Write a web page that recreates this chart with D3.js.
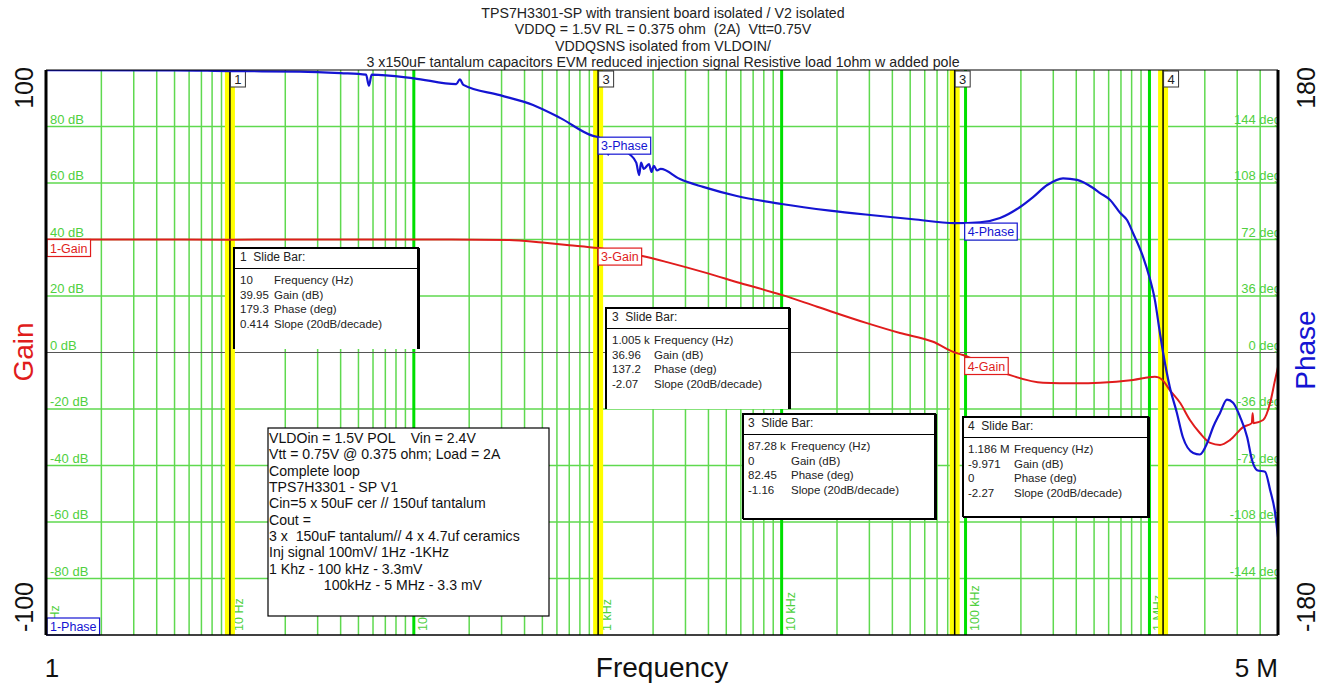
<!DOCTYPE html>
<html>
<head>
<meta charset="utf-8">
<script src="https://cdn.jsdelivr.net/npm/d3@7.9.0/dist/d3.min.js"></script>
<style>
  body { margin: 0; background: #fff; }
  svg { display: block; font-family: "Liberation Sans", Arial, sans-serif; }
</style>
</head>
<body>
<svg id="chart" width="1326" height="684"></svg>
<script>
// ---- data ----
const titleLines = [
  "TPS7H3301-SP with transient board isolated / V2 isolated",
  "VDDQ = 1.5V RL = 0.375 ohm  (2A)  Vtt=0.75V",
  "VDDQSNS isolated from VLDOIN/",
  "3 x150uF tantalum capacitors EVM reduced injection signal Resistive load 1ohm w added pole"
];

const gainFreq = [1, 3, 10, 30, 100, 160, 330, 500, 700, 1005, 1850, 2380, 3930, 5940, 10000,
  15600, 29100, 44000, 66600, 87280, 96900, 130000, 175000, 264000, 400000, 539000, 815000,
  1070000, 1120000, 1186000, 1290000, 1470000, 1660000, 1880000, 2140000, 2420000, 2740000,
  3230000, 3600000, 3640000, 3680000, 4150000, 4530000, 4820000, 5000000];
const gainDb = [40.0, 40.0, 39.95, 40.0, 40.0, 40.0, 39.8, 38.9, 38.0, 36.96, 33.8, 32.0, 28.1, 24.6, 20.4,
  16.2, 10.4, 6.9, 3.8, 0, -0.9, -4.5, -8.0, -10.7, -10.9, -10.7, -9.7,
  -8.6, -8.8, -9.97, -13.3, -17.9, -23.9, -28.5, -32.0, -32.7, -31.0,
  -26.4, -25.0, -21.5, -25.0, -23.9, -17.9, -9.7, -5.1];

const phaseFreq = [1, 5, 10, 24, 40, 55, 57, 59, 100, 170, 178, 186, 294, 445, 624, 943, 1005,
  1100, 1140, 1180, 1500, 1620, 1680, 1720, 1780, 1900, 1960, 2020, 2100, 2200, 2800, 3740, 5700, 10000,
  18300, 30300, 51800, 87280, 120000, 154000, 198000, 233000, 278000, 339000, 404000, 494000,
  539000, 611000, 692000, 755000, 815000, 923000, 1000000, 1070000, 1140000, 1186000, 1290000,
  1410000, 1520000, 1730000, 1880000, 2060000, 2220000, 2420000, 2640000, 2850000, 3110000,
  3400000, 3610000, 3850000, 4250000, 4530000, 4820000, 5000000];
const phaseDeg = [179.9, 179.8, 179.3, 179, 178, 177, 170, 177, 174.7, 171, 174, 170.5, 164, 157.7, 149.5, 138, 137.2,
  134, 126, 132, 126, 121, 113, 121, 117, 120, 115, 119, 116, 117, 110.5, 105.5, 99.7, 94.6,
  90.4, 87.6, 84.9, 82.45, 83.0, 85.7, 92.7, 99, 106.7, 111, 110, 104.8,
  101.6, 97.2, 89, 84.4, 76, 61, 48, 33.5, 12.4, 0, -22,
  -38.5, -54, -64, -65, -57.7, -47.5, -38.5, -30, -32, -41,
  -54, -68.5, -75, -76, -87.6, -102, -117.6];

const gainTicks = [80, 60, 40, 20, 0, -20, -40, -60, -80];
const phaseTicks = [144, 108, 72, 36, 0, -36, -72, -108, -144];
const decadeFreqs = [1, 10, 100, 1e3, 1e4, 1e5, 1e6];
const decadeLabels = ["1 Hz", "10 Hz", "100 Hz", "1 kHz", "10 kHz", "100 kHz", "1 MHz"];

const sliderFreqs = [10, 1005, 87280, 1186000];
const sliderNames = ["1", "3", "3", "4"];
const readoutHeads = ["1  Slide Bar:", "3  Slide Bar:", "3  Slide Bar:", "4  Slide Bar:"];
const readoutFields = ["Frequency (Hz)", "Gain (dB)", "Phase (deg)", "Slope (20dB/decade)"];
const readoutValues = [
  ["10", "39.95", "179.3", "0.414"],
  ["1.005 k", "36.96", "137.2", "-2.07"],
  ["87.28 k", "0", "82.45", "-1.16"],
  ["1.186 M", "-9.971", "0", "-2.27"]
];

const markerNames = ["1-Gain", "3-Gain", "4-Gain", "1-Phase", "3-Phase", "4-Phase"];
const markerFreqs = [1, 1005, 87280, 1, 1005, 87280];
const markerValues = [40, 36.96, 0, -180, 137.2, 82.45];

const noteLines = [
  "VLDOin = 1.5V POL    Vin = 2.4V",
  "Vtt = 0.75V @ 0.375 ohm; Load = 2A",
  "Complete loop",
  "TPS7H3301 - SP V1",
  "Cin=5 x 50uF cer // 150uf tantalum",
  "Cout =",
  "3 x  150uF tantalum// 4 x 4.7uf ceramics",
  "Inj signal 100mV/ 1Hz -1KHz",
  "1 Khz - 100 kHz - 3.3mV",
  "              100kHz - 5 MHz - 3.3 mV"
];

// ---- layout ----
const L = 46, R = 1278, T = 70, B = 635;
const gridGreen = "#5fd94f", decadeGreen = "#00e000", labelGreen = "#4fd040";
const gainRed = "#e01c1c", phaseBlue = "#1414d2";

const svg = d3.select("#chart");
const x = d3.scaleLog().domain([1, 5e6]).range([L, R]);
const yG = d3.scaleLinear().domain([-100, 100]).range([B, T]);
const yP = d3.scaleLinear().domain([-180, 180]).range([B, T]);

svg.append("defs").append("clipPath").attr("id", "plotClip")
  .append("rect").attr("x", L).attr("y", T).attr("width", R - L).attr("height", B - T);

// title
svg.append("g").selectAll("text").data(titleLines).join("text")
  .attr("x", 663).attr("y", (d, i) => 18 + i * 16.4)
  .attr("text-anchor", "middle").attr("font-size", 14.2).attr("fill", "#222")
  .style("white-space", "pre").text(d => d);

const plot = svg.append("g").attr("clip-path", "url(#plotClip)");

// vertical grid: 1..9 per decade
let minorFreqs = [];
decadeFreqs.forEach(d => { for (let m = 2; m <= 9; m++) if (m * d < 5e6) minorFreqs.push(m * d); });
plot.append("g").selectAll("line").data(minorFreqs).join("line")
  .attr("x1", d => x(d)).attr("x2", d => x(d)).attr("y1", T).attr("y2", B)
  .attr("stroke", gridGreen).attr("stroke-width", 1.5);

// horizontal grid
plot.append("g").selectAll("line").data(gainTicks.filter(d => d !== 0)).join("line")
  .attr("x1", L).attr("x2", R).attr("y1", d => yG(d)).attr("y2", d => yG(d))
  .attr("stroke", gridGreen).attr("stroke-width", 1.5);

plot.append("g").selectAll("line").data(decadeFreqs.slice(1)).join("line")
  .attr("x1", d => x(d)).attr("x2", d => x(d)).attr("y1", T).attr("y2", B)
  .attr("stroke", decadeGreen).attr("stroke-width", 3);

plot.append("line").attr("x1", L).attr("x2", R).attr("y1", yG(0)).attr("y2", yG(0))
  .attr("stroke", "#555").attr("stroke-width", 1.2);

// decade labels, rotated
plot.append("g").selectAll("text").data(decadeFreqs).join("text")
  .attr("transform", d => `translate(${x(d) + 13},${B - 4}) rotate(-90)`)
  .attr("font-size", 12.5).attr("fill", labelGreen).text((d, i) => decadeLabels[i]);

// gain / phase tick labels inside plot
plot.append("g").selectAll("text").data(gainTicks).join("text")
  .attr("x", L + 4).attr("y", d => yG(d) - 3)
  .attr("font-size", 13).attr("fill", labelGreen).text(d => `${d} dB`);
plot.append("g").selectAll("text").data(phaseTicks).join("text")
  .attr("x", R + 3).attr("y", d => yP(d) - 3).attr("text-anchor", "end")
  .attr("font-size", 13).attr("fill", labelGreen).text(d => `${d} deg`);

// slide bars
const bars = plot.append("g").selectAll("g").data(sliderFreqs).join("g");
bars.append("rect").attr("x", d => x(d) - 5).attr("y", T).attr("width", 10).attr("height", B - T)
  .attr("fill", "#ffff00");
bars.append("line").attr("x1", d => x(d)).attr("x2", d => x(d)).attr("y1", T).attr("y2", B)
  .attr("stroke", "#000").attr("stroke-width", 1.5);

// curves
const gainPts = gainFreq.map((f, i) => [f, gainDb[i]]);
const phasePts = phaseFreq.map((f, i) => [f, phaseDeg[i]]);
plot.append("path").datum(gainPts)
  .attr("d", d3.line().x(d => x(d[0])).y(d => yG(d[1])).curve(d3.curveMonotoneX))
  .attr("fill", "none").attr("stroke", gainRed).attr("stroke-width", 2);
plot.append("path").datum(phasePts)
  .attr("d", d3.line().x(d => x(d[0])).y(d => yP(d[1])).curve(d3.curveMonotoneX))
  .attr("fill", "none").attr("stroke", phaseBlue).attr("stroke-width", 2.2);

// slide bar number tags
bars.append("rect").attr("x", d => x(d) + 0.5).attr("y", T + 1).attr("width", 15).attr("height", 16)
  .attr("fill", "#fff").attr("stroke", "#333").attr("stroke-width", 1);
bars.append("text").attr("x", d => x(d) + 8).attr("y", T + 14).attr("text-anchor", "middle")
  .attr("font-size", 13).attr("fill", "#222").text((d, i) => sliderNames[i]);

// readout boxes
const boxes = [
  { x: 234, y: 248, w: 184, h: 101, vx: 6, lx: 40, closed: false },
  { x: 606, y: 308, w: 183, h: 101, vx: 6, lx: 48, closed: false },
  { x: 743, y: 414, w: 192, h: 105, vx: 5, lx: 48, closed: true },
  { x: 963, y: 417, w: 185, h: 100, vx: 5, lx: 51, closed: true }
];
boxes.forEach((b, i) => {
  const g = svg.append("g");
  g.append("rect").attr("x", b.x).attr("y", b.y).attr("width", b.w).attr("height", b.h).attr("fill", "#fff");
  const p = `M${b.x},${b.y + b.h}V${b.y}H${b.x + b.w}V${b.y + b.h}` + (b.closed ? `H${b.x}` : "");
  g.append("path").attr("d", p).attr("fill", "none").attr("stroke", "#000").attr("stroke-width", 2);
  g.append("line").attr("x1", b.x + b.w + 1).attr("x2", b.x + b.w + 1).attr("y1", b.y).attr("y2", b.y + b.h + (b.closed ? 1 : 0))
    .attr("stroke", "#000").attr("stroke-width", 2);
  g.append("line").attr("x1", b.x).attr("x2", b.x + b.w).attr("y1", b.y + 20.5).attr("y2", b.y + 20.5)
    .attr("stroke", "#000").attr("stroke-width", 1);
  g.append("text").attr("x", b.x + b.vx).attr("y", b.y + 13).attr("font-size", 12).attr("fill", "#222")
    .style("white-space", "pre").text(readoutHeads[i]);
  readoutValues[i].forEach((v, j) => {
    g.append("text").attr("x", b.x + b.vx).attr("y", b.y + 36 + j * 14.5).attr("font-size", 11.5)
      .attr("fill", "#222").text(v);
    g.append("text").attr("x", b.x + b.lx).attr("y", b.y + 36 + j * 14.5).attr("font-size", 11.5)
      .attr("fill", "#222").text(readoutFields[j]);
  });
});

// note box
const note = svg.append("g");
note.append("rect").attr("x", 268).attr("y", 428).attr("width", 281).attr("height", 188)
  .attr("fill", "#fff").attr("stroke", "#000").attr("stroke-width", 1.2);
note.selectAll("text").data(noteLines).join("text")
  .attr("x", 269).attr("y", (d, i) => 443 + i * 16.35)
  .attr("font-size", 14.1).attr("fill", "#111").style("white-space", "pre").text(d => d);

// marker labels
markerNames.forEach((name, i) => {
  const isGain = i < 3;
  const color = isGain ? gainRed : phaseBlue;
  let top = isGain ? yG(markerValues[i]) : yP(markerValues[i]);
  if (top > B - 17) top = B - 17;
  if (name === "4-Gain") top += 5;
  const left = markerFreqs[i] === 1 ? L + 1 : x(markerFreqs[i]) + (markerFreqs[i] > 1e4 ? 10 : 0);
  const g = svg.append("g");
  const rect = g.append("rect").attr("x", left).attr("y", top).attr("height", 17)
    .attr("fill", "#fff").attr("stroke", color).attr("stroke-width", 1.2);
  const t = g.append("text").attr("x", left + 3).attr("y", top + 13).attr("font-size", 12.5)
    .attr("fill", color).text(name);
  rect.attr("width", t.node().getComputedTextLength() + 6);
});

// plot frame
svg.append("line").attr("x1", L).attr("x2", R).attr("y1", T).attr("y2", T).attr("stroke", "#000").attr("stroke-width", 1.2);
svg.append("line").attr("x1", L).attr("x2", R).attr("y1", B).attr("y2", B).attr("stroke", "#000").attr("stroke-width", 1.5);
svg.append("line").attr("x1", L).attr("x2", L).attr("y1", T).attr("y2", B).attr("stroke", "#000").attr("stroke-width", 3);
svg.append("line").attr("x1", R).attr("x2", R).attr("y1", T).attr("y2", B).attr("stroke", "#000").attr("stroke-width", 3);

// outer axis labels
const big = (txt, tx, ty, size, color) => svg.append("text")
  .attr("transform", `translate(${tx},${ty}) rotate(-90)`).attr("text-anchor", "middle")
  .attr("font-size", size).attr("fill", color).text(txt);
big("100", 33, yG(100) + 18, 25, "#111");
big("-100", 33, yG(-100) - 28, 25, "#111");
big("Gain", 33, 352, 28, gainRed);
big("180", 1315, yP(180) + 18, 25, "#111");
big("-180", 1315, yP(-180) - 28, 25, "#111");
big("Phase", 1315, 350, 28, phaseBlue);

svg.append("text").attr("x", x(1) + 6).attr("y", 677).attr("text-anchor", "middle")
  .attr("font-size", 26).attr("fill", "#111").text("1");
svg.append("text").attr("x", 662).attr("y", 677).attr("text-anchor", "middle")
  .attr("font-size", 28).attr("fill", "#111").text("Frequency");
svg.append("text").attr("x", R).attr("y", 677).attr("text-anchor", "end")
  .attr("font-size", 26).attr("fill", "#111").text("5 M");
</script>
</body>
</html>
